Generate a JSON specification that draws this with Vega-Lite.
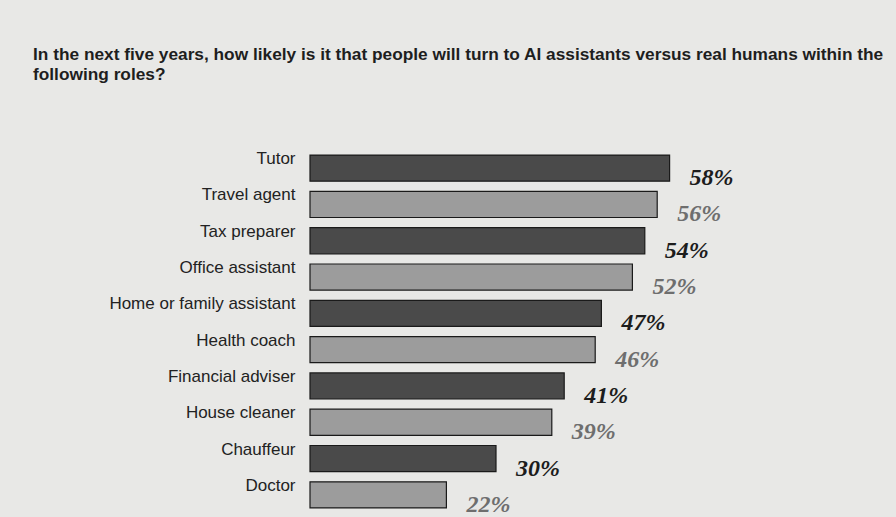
{
  "$schema": "https://vega.github.io/schema/vega-lite/v6.json",
  "autosize": "none",
  "width": 558,
  "height": 363,
  "padding": {"left": 310, "top": 150, "right": 28, "bottom": 4},
  "background": "#e8e8e6",
  "title": {
    "text": ["In the next five years, how likely is it that people will turn to AI assistants versus real humans within the", "following roles?"],
    "anchor": "start",
    "frame": "group",
    "dx": -277,
    "offset": 66,
    "font": "Liberation Sans",
    "fontSize": 17.3,
    "fontWeight": "bold",
    "color": "#1e1e1e",
    "lineHeight": 20
  },
  "config": {"view": {"stroke": null}},
  "data": {
    "values": [
      {"role": "Tutor", "share": 0.58},
      {"role": "Travel agent", "share": 0.56},
      {"role": "Tax preparer", "share": 0.54},
      {"role": "Office assistant", "share": 0.52},
      {"role": "Home or family assistant", "share": 0.47},
      {"role": "Health coach", "share": 0.46},
      {"role": "Financial adviser", "share": 0.41},
      {"role": "House cleaner", "share": 0.39},
      {"role": "Chauffeur", "share": 0.30},
      {"role": "Doctor", "share": 0.22}
    ]
  },
  "encoding": {
    "y": {
      "field": "role",
      "type": "nominal",
      "sort": null,
      "scale": {"paddingInner": 0.28, "paddingOuter": 0.14},
      "axis": {
        "title": null,
        "domain": false,
        "ticks": false,
        "labelPadding": 15,
        "labelLimit": 300,
        "labelFont": "Liberation Sans",
        "labelFontSize": 17,
        "labelColor": "#222222",
        "labelBaseline": "bottom",
        "labelOffset": 0
      }
    },
    "x": {
      "field": "share",
      "type": "quantitative",
      "scale": {"domain": [0, 0.9]},
      "axis": null
    }
  },
  "layer": [
    {
      "mark": {"type": "bar", "stroke": "#1a1a1a", "strokeWidth": 1.2},
      "encoding": {
        "color": {
          "field": "role",
          "type": "nominal",
          "scale": {
            "domain": ["Tutor", "Travel agent", "Tax preparer", "Office assistant", "Home or family assistant", "Health coach", "Financial adviser", "House cleaner", "Chauffeur", "Doctor"],
            "range": ["#4a4a4a", "#9c9c9c", "#4a4a4a", "#9c9c9c", "#4a4a4a", "#9c9c9c", "#4a4a4a", "#9c9c9c", "#4a4a4a", "#9c9c9c"]
          },
          "legend": null
        }
      }
    },
    {
      "mark": {
        "type": "text",
        "align": "left",
        "baseline": "middle",
        "dx": 20,
        "dy": 10,
        "font": "Liberation Serif, DejaVu Serif",
        "fontSize": 24,
        "fontStyle": "italic",
        "fontWeight": "bold"
      },
      "encoding": {
        "text": {"field": "share", "type": "quantitative", "format": ".0%"},
        "color": {
          "field": "role",
          "type": "nominal",
          "scale": {
            "domain": ["Tutor", "Travel agent", "Tax preparer", "Office assistant", "Home or family assistant", "Health coach", "Financial adviser", "House cleaner", "Chauffeur", "Doctor"],
            "range": ["#1c1c1c", "#6e6e6e", "#1c1c1c", "#6e6e6e", "#1c1c1c", "#6e6e6e", "#1c1c1c", "#6e6e6e", "#1c1c1c", "#6e6e6e"]
          },
          "legend": null
        }
      }
    }
  ],
  "resolve": {"scale": {"color": "independent"}}
}
